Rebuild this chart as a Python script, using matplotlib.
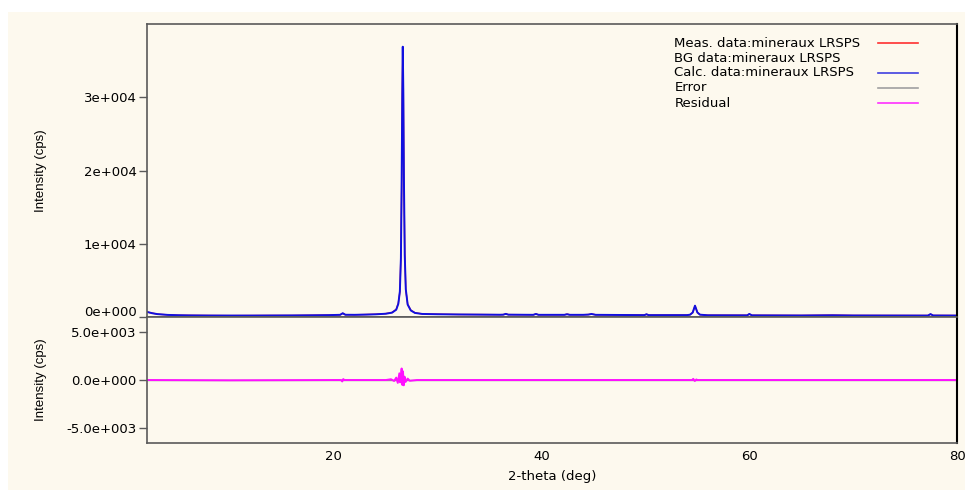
import matplotlib
matplotlib.use("Agg")
import matplotlib.pyplot as plt
import matplotlib.transforms as mtransforms
from matplotlib.patches import Rectangle

# 2-theta positions for the profile (dense around the peaks)
two_theta = [2.0, 2.5, 3.0, 4.0, 5.0, 6.0, 8.0, 10.0, 12.0, 14.0, 16.0, 18.0,
             19.5, 20.6, 20.85, 21.1, 22.0, 23.0, 24.0, 25.0, 25.6, 26.0,
             26.2, 26.35, 26.45, 26.52, 26.58, 26.63, 26.68, 26.74, 26.82,
             26.92, 27.1, 27.4, 27.8, 28.5, 30.0, 32.0, 34.0, 36.0, 36.3,
             36.55, 36.8, 39.2, 39.45, 39.7, 42.2, 42.45, 42.7, 44.0, 44.5,
             44.8, 45.2, 49.9, 50.1, 50.3, 54.0, 54.3, 54.55, 54.77, 55.0,
             55.25, 56.0, 59.8, 60.0, 60.25, 65.0, 68.0, 70.0, 77.2, 77.45,
             77.7, 80.0]
calc = [700, 520, 400, 290, 250, 225, 205, 200, 200, 210, 220, 240,
        260, 300, 520, 310, 300, 330, 370, 450, 600, 1000,
        1800, 3500, 8000, 18000, 30000, 36900, 31000, 19000, 8500,
        3800, 1700, 900, 560, 420, 380, 350, 330, 310, 320,
        430, 320, 300, 420, 300, 300, 380, 300, 300, 330,
        420, 300, 260, 380, 260, 260, 320, 620, 1550, 620,
        320, 240, 230, 420, 230, 210, 240, 210, 200, 400,
        210, 200]
meas = [680, 540, 390, 300, 240, 230, 210, 195, 205, 215, 215, 245,
        270, 310, 500, 320, 310, 340, 380, 470, 620, 1050,
        1900, 3400, 8300, 17500, 30500, 36500, 31500, 18500, 8800,
        3700, 1750, 950, 580, 430, 390, 345, 340, 320, 330,
        420, 330, 310, 410, 310, 310, 390, 320, 310, 340,
        410, 310, 280, 370, 270, 270, 330, 600, 1520, 640,
        330, 250, 240, 400, 240, 220, 260, 220, 210, 390,
        220, 210]

# residual (meas - calc)
res_theta = [2.0, 10.0, 20.0, 20.7, 20.8, 20.9, 21.0, 25.0, 25.5, 25.8,
             26.0, 26.15, 26.3, 26.38, 26.45, 26.52, 26.58, 26.65, 26.72,
             26.8, 26.9, 27.1, 27.3, 28.0, 40.0, 54.5, 54.6, 54.75, 54.9,
             55.0, 60.0, 80.0]
residual = [0, -30, 0, 0, -150, 100, 0, 0, 80, -100,
            250, -300, 700, -250, 200, 1200, -500, 900, -550,
            350, -200, 150, -80, 0, 0, 0, 120, -100, 60,
            0, 0, 0]
error_theta = [2.0, 80.0]
error = [0, 0]

main_ticks = [0, 10000, 20000, 30000]
main_labels = ["0e+000", "1e+004", "2e+004", "3e+004"]
res_ticks = [-5000, 0, 5000]
res_labels = ["-5.0e+003", "0.0e+000", "5.0e+003"]
x_ticks = [20, 40, 60, 80]

legend_labels = ["Meas. data:mineraux LRSPS", "BG data:mineraux LRSPS",
                 "Calc. data:mineraux LRSPS", "Error", "Residual"]
legend_colors = ["#ff3030", None, "#4040e0", "#a0a0a0", "#ff30ff"]

bg = "#fdf9ee"
frame = "#5a5a5a"
plt.rcParams["font.family"] = ["DejaVu Sans"]
plt.rcParams["font.size"] = 9

fig = plt.figure(figsize=(9.65, 4.9), dpi=100, facecolor="white")
fig.patches.append(Rectangle((8 / 965, 0), 1, 478 / 490, transform=fig.transFigure,
                             facecolor=bg, edgecolor="none", zorder=-10))

ax = fig.add_axes([147 / 965, 0.353, 810 / 965, 0.598])
ax2 = fig.add_axes([147 / 965, 0.0959, 810 / 965, 0.2571], sharex=ax)

for a in (ax, ax2):
    a.set_facecolor(bg)
    for s in ("left", "bottom", "top"):
        a.spines[s].set_color(frame)
        a.spines[s].set_linewidth(1.2)
    a.spines["right"].set_color("black")
    a.spines["right"].set_linewidth(1.5)
    a.tick_params(axis="y", direction="out", length=6, width=1, color=frame,
                  pad=1.5, labelsize=9.5)

ax.plot(two_theta, meas, color="#ff2020", lw=1.0)
ax.plot(two_theta, calc, color="#1010e0", lw=1.4)
ax.set_xlim(2, 80)
ax.set_ylim(0, 40000)
ax.set_yticks(main_ticks)
ax.set_yticklabels(main_labels)
ax.tick_params(axis="x", length=0, labelbottom=False)
ax.set_ylabel("Intensity (cps)", fontsize=9.5, family="Liberation Sans")
ax.yaxis.set_label_coords(-0.124, 0.5)
# the zero label sits a little above its tick
zlab = ax.get_yticklabels()[0]
zlab.set_transform(zlab.get_transform() +
                   mtransforms.ScaledTranslation(0, 6 / 100, fig.dpi_scale_trans))

ax2.plot(error_theta, error, color="#909090", lw=1.0)
ax2.plot(res_theta, residual, color="#ff10ff", lw=1.4)
ax2.set_ylim(-6560, 6560)
ax2.set_yticks(res_ticks)
ax2.set_yticklabels(res_labels)
ax2.set_xticks(x_ticks)
ax2.tick_params(axis="x", length=0, pad=5, labelsize=9.5)
ax2.set_xlabel("2-theta (deg)", fontsize=9.5, labelpad=5)
ax2.set_ylabel("Intensity (cps)", fontsize=9.5, family="Liberation Sans")
ax2.yaxis.set_label_coords(-0.124, 0.5)

# legend: left-aligned texts with line samples in a column on the right
row_y = [0.935, 0.884, 0.833, 0.782, 0.730]
for label, color, y in zip(legend_labels, legend_colors, row_y):
    ax.text(0.651, y, label, transform=ax.transAxes, fontsize=9.5,
            ha="left", va="center")
    if color:
        ax.plot([0.902, 0.952], [y, y], transform=ax.transAxes, color=color,
                lw=1.2, clip_on=False)

fig.savefig("out.png", dpi=100, facecolor="white")
